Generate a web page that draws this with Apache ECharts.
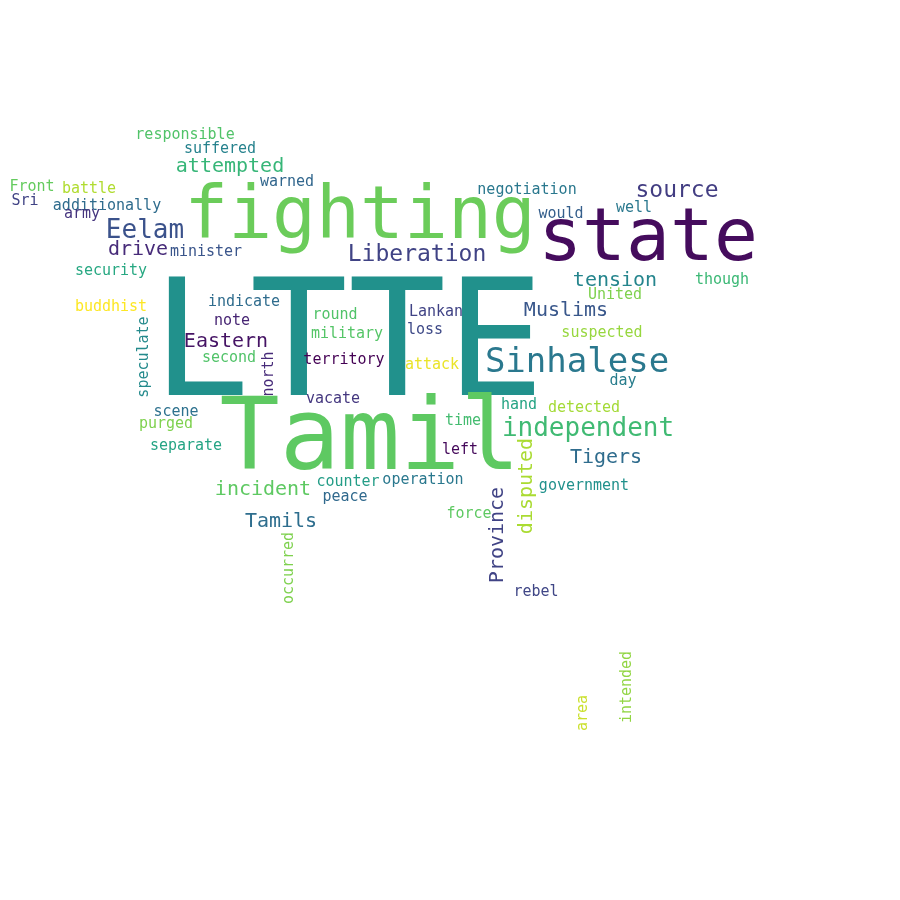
<!DOCTYPE html>
<html>
<head>
<meta charset="utf-8">
<title>LTTE word cloud</title>
<script src="https://cdn.jsdelivr.net/npm/echarts@6/dist/echarts.min.js"></script>
<style>
    html, body { margin: 0; padding: 0; background: #fff; }
    #main { width: 900px; height: 900px; }
</style>
</head>
<body>
<div id="main"></div>
<script>
    // words and where they sit in the cloud (0..900 canvas units)
    var words = ['LTTE', 'Tamil', 'fighting', 'state', 'Sinhalese', 'independent', 'Eelam', 'Liberation',
        'source', 'attempted', 'drive', 'tension', 'Muslims', 'Eastern', 'Tigers', 'incident', 'Tamils',
        'Province', 'disputed', 'occurred', 'intended', 'area', 'speculate', 'north',
        'responsible', 'suffered', 'warned', 'Front', 'battle', 'Sri', 'additionally', 'army', 'minister',
        'security', 'buddhist', 'indicate', 'note', 'second', 'scene', 'purged', 'separate', 'round',
        'military', 'territory', 'vacate', 'Lankan', 'loss', 'attack', 'hand', 'time', 'left', 'counter',
        'operation', 'peace', 'government', 'force', 'rebel', 'detected', 'negotiation', 'would', 'well',
        'though', 'United', 'suspected', 'day'];
    var xs = [348, 370, 360, 648, 577, 588, 145, 417,
        677, 230, 138, 615, 566, 226, 606, 263, 281,
        498, 527, 289, 627, 583, 144, 269,
        185, 220, 287, 32, 89, 25, 107, 82, 206,
        111, 111, 244, 232, 229, 176, 166, 186, 335,
        347, 344, 333, 436, 425, 432, 519, 463, 460, 348,
        423, 345, 584, 469, 536, 584, 527, 561, 634,
        722, 615, 602, 623];
    var ys = [353, 443, 219, 241, 363, 429, 231, 255,
        191, 167, 250, 281, 311, 342, 458, 490, 522,
        535, 486, 568, 687, 713, 357, 374,
        135, 149, 182, 187, 189, 201, 206, 214, 252,
        271, 307, 302, 321, 358, 412, 424, 446, 315,
        334, 360, 399, 312, 330, 365, 405, 421, 450, 482,
        480, 497, 486, 514, 592, 408, 190, 214, 208,
        280, 295, 333, 381];
    var weights = [163, 100, 73, 73, 34, 26, 26, 23,
        23, 20, 20, 20, 20, 20, 20, 20, 20,
        20, 20, 15, 15, 15, 15, 15,
        15, 15, 15, 15, 15, 15, 15, 15, 15,
        15, 15, 15, 15, 15, 15, 15, 15, 15,
        15, 15, 15, 15, 15, 15, 15, 15, 15, 15,
        15, 15, 15, 15, 15, 15, 15, 15, 15,
        15, 15, 15, 15];
    var vertical = [0, 0, 0, 0, 0, 0, 0, 0,
        0, 0, 0, 0, 0, 0, 0, 0, 0,
        1, 1, 1, 1, 1, 1, 1,
        0, 0, 0, 0, 0, 0, 0, 0, 0,
        0, 0, 0, 0, 0, 0, 0, 0, 0,
        0, 0, 0, 0, 0, 0, 0, 0, 0, 0,
        0, 0, 0, 0, 0, 0, 0, 0, 0,
        0, 0, 0, 0];
    // position on the viridis scale (0 dark purple .. 1 yellow)
    var tones = [0.5, 0.75, 0.77, 0.03, 0.4, 0.68, 0.25, 0.2,
        0.18, 0.66, 0.12, 0.45, 0.27, 0.05, 0.35, 0.75, 0.36,
        0.2, 0.87, 0.8, 0.83, 0.92, 0.47, 0.12,
        0.72, 0.44, 0.33, 0.76, 0.88, 0.2, 0.35, 0.15, 0.26,
        0.6, 1.0, 0.35, 0.1, 0.72, 0.37, 0.8, 0.58, 0.72,
        0.73, 0.0, 0.16, 0.2, 0.22, 0.97, 0.58, 0.69, 0.02, 0.55,
        0.4, 0.34, 0.5, 0.75, 0.21, 0.86, 0.4, 0.3, 0.4,
        0.67, 0.8, 0.84, 0.42];

    var cloud = [];
    for (var i = 0; i < words.length; i++) {
        cloud.push({
            name: words[i],
            value: [xs[i], ys[i], weights[i], tones[i]],
            label: {
                fontSize: weights[i],
                rotate: vertical[i] ? 90 : 0
            }
        });
    }

    var myChart = echarts.init(document.getElementById('main'));
    var option = {
        backgroundColor: '#ffffff',
        animation: false,
        grid: { left: 0, right: 0, top: 0, bottom: 0 },
        xAxis: { type: 'value', min: 0, max: 900, show: false },
        yAxis: { type: 'value', min: 0, max: 900, inverse: true, show: false },
        visualMap: {
            show: false,
            type: 'continuous',
            dimension: 3,
            min: 0,
            max: 1,
            inRange: {
                color: ['#440154', '#472d7b', '#3b528b', '#2c728e', '#21918c',
                    '#28ae80', '#5ec962', '#addc30', '#fde725']
            }
        },
        series: [
            {
                type: 'scatter',
                symbolSize: 0,
                silent: true,
                itemStyle: { opacity: 1 },
                data: cloud,
                label: {
                    show: true,
                    position: 'inside',
                    formatter: '{b}',
                    color: 'inherit',
                    opacity: 1,
                    fontFamily: 'DejaVu Sans Mono',
                    fontWeight: 'normal'
                }
            }
        ]
    };
    myChart.setOption(option);
</script>
</body>
</html>
